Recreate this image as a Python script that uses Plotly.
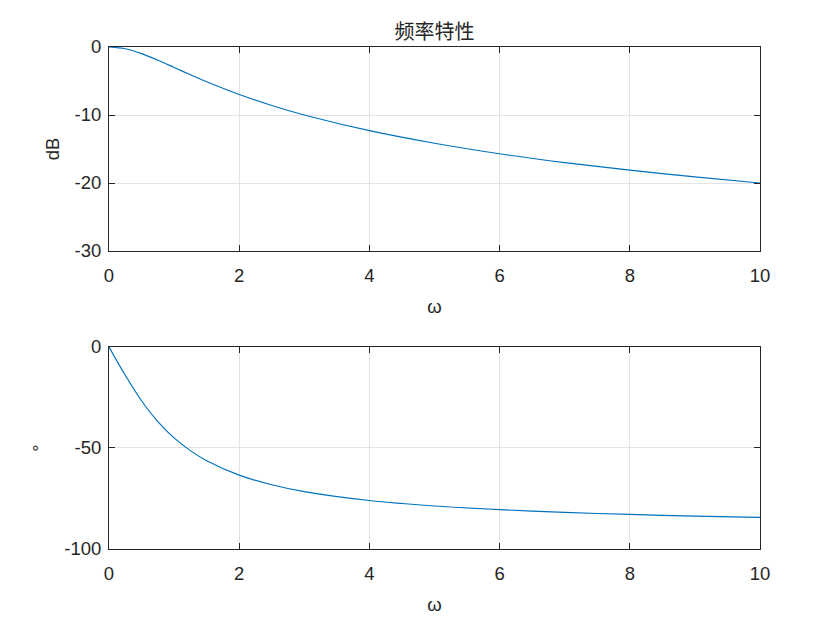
import plotly.graph_objects as go
from plotly.subplots import make_subplots

omega = [0, 0.25, 0.5, 0.75, 1, 1.25, 1.5, 2, 2.5, 3, 4, 5, 6, 7, 8, 9, 10]
mag_db = [0, -0.26, -0.97, -1.94, -3.01, -4.09, -5.12, -6.99, -8.60, -10.0,
          -12.3, -14.15, -15.7, -17.0, -18.1, -19.1, -20.0]
phase_deg = [0, -14.0, -26.6, -36.9, -45.0, -51.3, -56.3, -63.4, -68.2, -71.6,
             -76.0, -78.7, -80.5, -81.9, -82.9, -83.7, -84.3]

x_ticks = [0, 2, 4, 6, 8, 10]
mag_ticks = [0, -10, -20, -30]
mag_labels = ["0", "-10", "-20", "-30"]
phase_ticks = [0, -50, -100]
phase_labels = ["0", "-50", "-100"]

blue = "#0072BD"
font_tick = dict(family="Liberation Sans, Arial, sans-serif", size=18.5, color="#262626")

fig = make_subplots(rows=2, cols=1, vertical_spacing=0.0)
fig.add_trace(go.Scatter(x=omega, y=mag_db, mode="lines",
                         line=dict(color=blue, width=1.2, shape="spline", smoothing=0.8),
                         showlegend=False), row=1, col=1)
fig.add_trace(go.Scatter(x=omega, y=phase_deg, mode="lines",
                         line=dict(color=blue, width=1.2, shape="spline", smoothing=0.8),
                         showlegend=False), row=2, col=1)

axis_common = dict(showline=True, linecolor="#262626", linewidth=1, mirror="ticks",
                   ticks="inside", ticklen=6, tickcolor="#262626",
                   showgrid=True, gridcolor="#e3e3e3", gridwidth=1,
                   zeroline=False, tickfont=font_tick)

fig.update_xaxes(range=[0, 10], tickvals=x_ticks, ticklabelstandoff=8, **axis_common)
fig.update_yaxes(ticklabelstandoff=3, **axis_common)
fig.update_layout(
    xaxis=dict(domain=[0, 1]),
    yaxis=dict(domain=[0.5936, 1], range=[-30, 0], tickvals=mag_ticks, ticktext=mag_labels,
               title=dict(text="dB", font=font_tick, standoff=10)),
    xaxis2=dict(domain=[0, 1]),
    yaxis2=dict(domain=[0, 0.4024], range=[-100, 0], tickvals=phase_ticks, ticktext=phase_labels,
                title=dict(text="°", font=font_tick, standoff=12)),
)
fig.update_xaxes(title=dict(text="ω", font=font_tick, standoff=14), row=1, col=1)
fig.update_xaxes(title=dict(text="ω", font=font_tick, standoff=14), row=2, col=1)

fig.update_layout(
    width=840, height=630,
    margin=dict(l=101, r=88, t=39, b=89),
    paper_bgcolor="white", plot_bgcolor="white",
    title=dict(text="频率特性", xanchor="center", y=1 - 24/630, yanchor="middle",
               font=dict(family="Noto Sans CJK SC", size=20, color="#262626"),
               xref="container", x=(101 + 651/2)/840),
)
fig.write_html("out.html")
